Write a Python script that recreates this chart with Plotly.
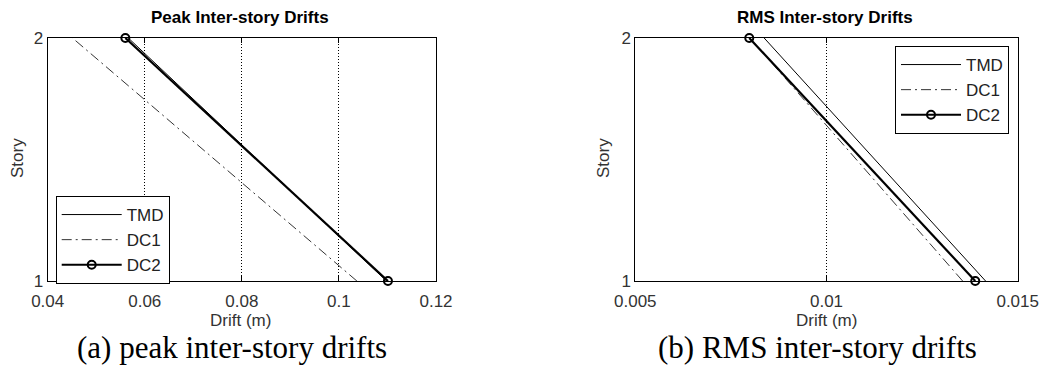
import plotly.graph_objects as go

stories = [1, 2]
series_names = ["TMD", "DC1", "DC2"]

# Peak inter-story drifts (m), per story [1, 2]
peak_tmd = [0.1098, 0.0566]
peak_dc1 = [0.1037, 0.0451]
peak_dc2 = [0.1101, 0.0560]

# RMS inter-story drifts (m), per story [1, 2]
rms_tmd = [0.01416, 0.00837]
rms_dc1 = [0.01356, 0.00800]
rms_dc2 = [0.01389, 0.00798]

peak_xticks = [0.04, 0.06, 0.08, 0.1, 0.12]
peak_xticktext = ["0.04", "0.06", "0.08", "0.1", "0.12"]
rms_xticks = [0.005, 0.01, 0.015]
rms_xticktext = ["0.005", "0.01", "0.015"]

# page body has a default 8px margin; figure is sized to fill the rest of the window
OFF = 8
W, H = 1052 - OFF, 366 - OFF
FONT = "Liberation Sans, Arial, sans-serif"
SERIF = "Liberation Serif, Times New Roman, serif"

def px(x):
    return (x - OFF) / W

def py(y):
    return 1 - (y - OFF) / H

styles = {
    "TMD": dict(line=dict(color="black", width=1), mode="lines"),
    "DC1": dict(line=dict(color="#333333", width=1, dash="10px,4px,2px,4px"), mode="lines"),
    "DC2": dict(line=dict(color="black", width=2.2), mode="lines+markers",
                marker=dict(symbol="circle-open", size=8, color="black",
                            line=dict(width=2, color="black"))),
}

fig = go.Figure()

def add_panel(data, xa, ya, legend):
    for name, xs in zip(series_names, data):
        fig.add_trace(go.Scatter(x=xs, y=stories, name=name, xaxis=xa, yaxis=ya,
                                 legend=legend, cliponaxis=False, **styles[name]))

add_panel([peak_tmd, peak_dc1, peak_dc2], "x", "y", "legend")
add_panel([rms_tmd, rms_dc1, rms_dc2], "x2", "y2", "legend2")

ydom = [py(281), py(38)]
axis_common = dict(showline=True, linecolor="black", linewidth=1, mirror="ticks",
                   ticks="inside", ticklen=5, tickcolor="black", zeroline=False,
                   automargin=False,
                   tickfont=dict(family=FONT, size=17, color="#333333"))
grid = dict(showgrid=True, griddash="1px,2px", gridcolor="black", gridwidth=1)

fig.update_layout(
    width=W, height=H,
    margin=dict(l=0, r=0, t=0, b=0, autoexpand=False),
    paper_bgcolor="white", plot_bgcolor="white",
    font=dict(family=FONT, color="black"),
    xaxis=dict(domain=[px(47.7), px(436)], range=[0.04, 0.12], tickvals=peak_xticks,
               ticktext=peak_xticktext, anchor="y", ticklabelstandoff=5,
               **grid, **axis_common),
    yaxis=dict(domain=ydom, range=[1, 2], tickvals=[1, 2], ticktext=["1", "2"],
               showgrid=False, anchor="x", **axis_common),
    xaxis2=dict(domain=[px(635.3), px(1017.7)], range=[0.005, 0.015], tickvals=rms_xticks,
                ticktext=rms_xticktext, anchor="y2", ticklabelstandoff=5,
                **grid, **axis_common),
    yaxis2=dict(domain=ydom, range=[1, 2], tickvals=[1, 2], ticktext=["1", "2"],
                showgrid=False, anchor="x2", **axis_common),
    legend=dict(x=px(55.7), y=py(196), xanchor="left", yanchor="top",
                bgcolor="white", bordercolor="black", borderwidth=1, itemwidth=60,
                font=dict(family=FONT, size=17, color="#222222"), tracegroupgap=0),
    legend2=dict(x=px(895), y=py(46), xanchor="left", yanchor="top",
                 bgcolor="white", bordercolor="black", borderwidth=1, itemwidth=60,
                 font=dict(family=FONT, size=17, color="#222222"), tracegroupgap=0),
    showlegend=True,
)

ann = []
def A(text, x, y, size, family=FONT, bold=False, angle=0, color="black"):
    ann.append(dict(text=f"<b>{text}</b>" if bold else text, x=px(x), y=py(y),
                    xref="paper", yref="paper", showarrow=False, xanchor="center",
                    yanchor="middle", textangle=angle,
                    font=dict(family=family, size=size, color=color)))

A("Peak Inter-story Drifts", 240, 17, 17, bold=True)
A("RMS Inter-story Drifts", 825, 17, 17, bold=True)
A("Drift (m)", 240, 320, 17, color="#333333")
A("Drift (m)", 826, 320, 17, color="#333333")
A("Story", 18, 158, 17, angle=-90, color="#333333")
A("Story", 604, 158, 17, angle=-90, color="#333333")
A("(a) peak inter-story drifts", 232, 347.5, 31, family=SERIF)
A("(b) RMS inter-story drifts", 817, 347.5, 31, family=SERIF)
fig.update_layout(annotations=ann)

fig.write_html("out.html")
